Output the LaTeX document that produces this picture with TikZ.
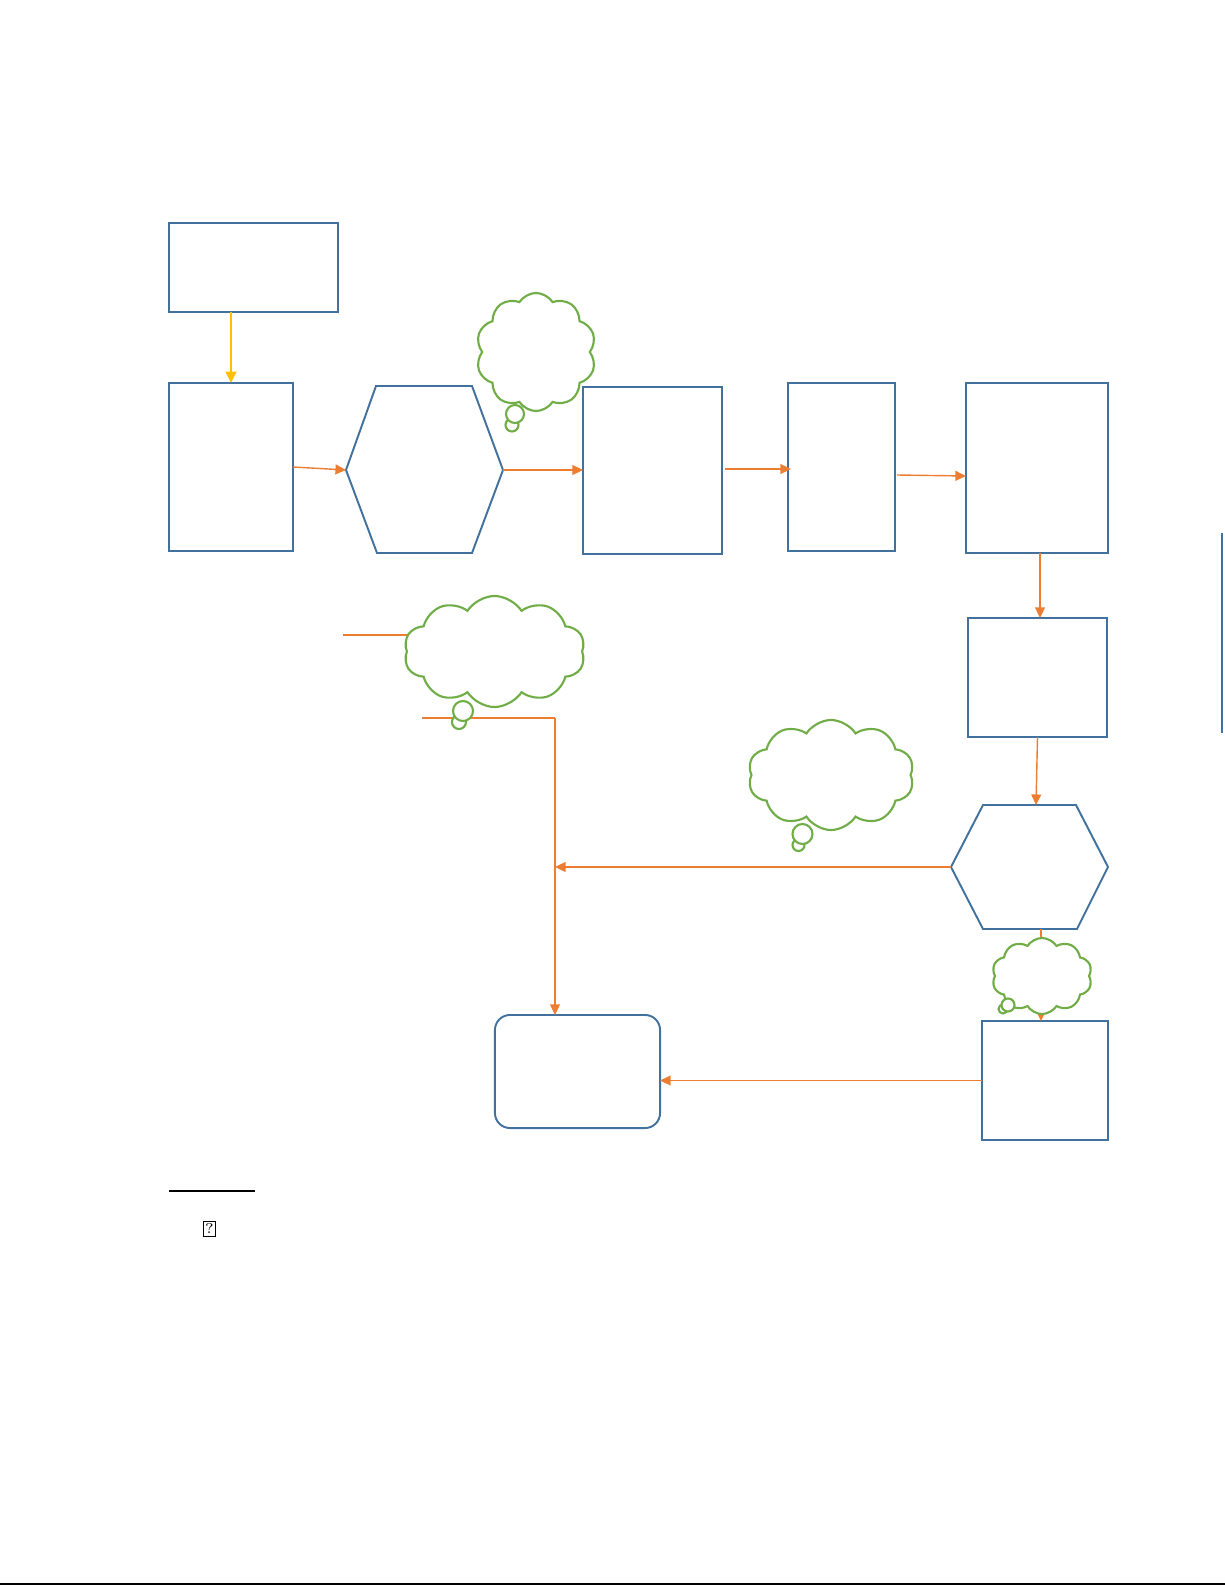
\documentclass[tikz,border=0pt]{standalone}
\usepackage{amsmath}
\usetikzlibrary{arrows.meta,shapes.symbols}
\definecolor{boxblue}{HTML}{41719C}
\definecolor{flowor}{HTML}{ED7D31}
\definecolor{thinkgreen}{HTML}{70AD47}
\definecolor{startyel}{HTML}{FFC000}
\tikzset{
  stepbox/.style={draw=boxblue, line width=0.55pt, inner sep=0pt, outer sep=0pt},
  hexline/.style={draw=boxblue, line width=0.55pt, line join=miter},
  flowline/.style={flowor, line width=0.4pt},
  flow/.style={flowline, -{Triangle[length=3pt,width=2.8pt]}},
  startflow/.style={startyel, line width=0.75pt, -{Triangle[length=3.2pt,width=3pt]}},
  thought/.style={cloud, draw=thinkgreen, fill=white, line width=0.6pt,
    cloud puffs=10, cloud puff arc=115, cloud ignores aspect,
    inner sep=0pt, outer sep=0pt},
  bubble/.style={draw=thinkgreen, fill=white, line width=0.6pt}
}
\begin{document}
\begin{tikzpicture}[x=0.01cm, y=-0.01cm]
    \useasboundingbox (0,0) rectangle (1225,1585);
%    \fill[white] (0,0) rectangle (1225,1585);
    % upper row
    \node[stepbox, minimum width=1.69cm, minimum height=0.89cm] (start) at (253.5,267.5) {};
    \node[stepbox, minimum width=1.24cm, minimum height=1.68cm] (intake) at (231,467) {};
    \draw[hexline] (376,386) -- (472,386) -- (503,470) -- (472,553) -- (377,553) -- (346,470) -- cycle;
    \coordinate (h1w) at (346,470);
    \coordinate (h1e) at (503,470);
    \node[stepbox, minimum width=1.39cm, minimum height=1.67cm] (review) at (652.5,470.5) {};
    \node[stepbox, minimum width=1.07cm, minimum height=1.68cm] (check) at (841.5,467) {};
    \node[stepbox, minimum width=1.42cm, minimum height=1.70cm] (record) at (1037,468) {};
    % right column
    \node[stepbox, minimum width=1.39cm, minimum height=1.19cm] (notify) at (1037.5,677.5) {};
    \draw[hexline] (983,805) -- (1076,805) -- (1108,867) -- (1077,929) -- (983,929) -- (951,867) -- cycle;
    \coordinate (h2n) at (1036,805);
    \coordinate (h2w) at (951,867);
    \coordinate (h2s) at (1041,929);
    \node[stepbox, minimum width=1.26cm, minimum height=1.19cm] (archive) at (1045,1080.5) {};
    \node[stepbox, rounded corners=0.15cm, minimum width=1.65cm, minimum height=1.13cm] (done) at (577.5,1071.5) {};
    % connectors
    \draw[startflow] (intake.north |- start.south) -- (intake.north);
    \draw[flow] (intake.east) -- (h1w);
    \draw[flow] (h1e) -- (review.west |- h1e);
    \draw[flow] ([shift={(3,-1.5)}]review.east) -- ([shift={(3,-1.5)}]review.east -| check.west);
    \draw[flow] ([shift={(2,8)}]check.east) -- ([shift={(0,8)}]record.west);
    \draw[flow] ([shift={(3,0)}]record.south) -- ([shift={(3,0)}]record.south |- notify.north);
    \draw[flow] (notify.south) -- (h2n);
    \draw[flow] (h2s) -- (h2s |- archive.north);
    \coordinate (join) at (555,867);
    \coordinate (bend) at (555,718);
    \coordinate (tailA) at (343,635);
    \coordinate (tailB) at (422,718);
    \draw[flow] (h2w) -- (join);
    \draw[flowline] (tailB) -- (bend);
    \draw[flow] (bend) -- (bend |- done.north);
    \draw[flow] (archive.west) -- (archive.west -| done.east);
    \draw[flowline] (tailA) -- ++(90,0);
    % thoughts
    \node[thought, minimum width=1.20cm, minimum height=1.18cm] (think1) at (536,352) {};
    \draw[bubble] (512,425) circle[radius=6.5];
    \draw[bubble] (515,414) circle[radius=9];
    \node[thought, minimum width=1.81cm, minimum height=1.11cm] (think2) at (494.5,651.5) {};
    \draw[bubble] (459,722) circle[radius=7];
    \draw[bubble] (463,711) circle[radius=10];
    \node[thought, minimum width=1.66cm, minimum height=1.10cm] (think3) at (831,775) {};
    \draw[bubble] (798.5,845) circle[radius=6];
    \draw[bubble] (802.5,834) circle[radius=10];
    \node[thought, minimum width=1.00cm, minimum height=0.76cm] (think4) at (1042,976) {};
    \draw[bubble] (1003,1009) circle[radius=4.5];
    \draw[bubble] (1008,1005) circle[radius=6.5];
    % footnote and page edges
    \draw[black, line width=0.45pt] (169,1191) -- (255,1191);
    \node[draw, line width=0.3pt, inner sep=0.4pt, minimum width=0.07cm, minimum height=0.15cm, font=\fontsize{4}{5}\selectfont] (glyph) at (209.5,1229) {?};
    \draw[boxblue, line width=0.6pt] (1222,533) -- (1222,733);
    \draw[black, line width=0.5pt] (0,1584) -- (1225,1584);
  \end{tikzpicture}
\end{document}
